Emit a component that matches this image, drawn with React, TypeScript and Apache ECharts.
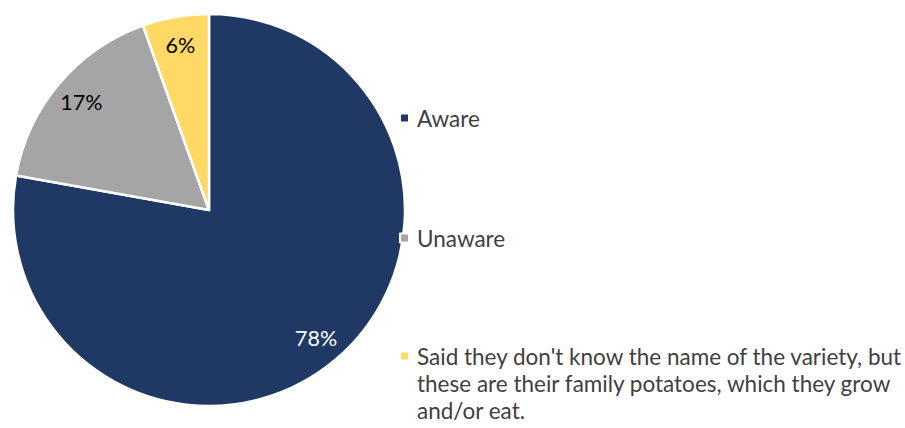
import React, { useEffect, useRef } from "react";
import * as echarts from "echarts";

const categories = [
  "Aware",
  "Unaware",
  "Said they don't know the name of the variety, but\nthese are their family potatoes, which they grow\nand/or eat.",
];
const values = [78.2, 16.8, 5.5];
const colors = ["#203864", "#A5A5A5", "#FFD966"];
const labelColors = ["#FFFFFF", "#000000", "#000000"];

const FONT = "Lato";

export default function App() {
  const ref = useRef<HTMLDivElement>(null);
  useEffect(() => {
    if (!ref.current) return;
    const chart = echarts.init(ref.current, undefined, { renderer: "svg" });
    const center = [209, 210];
    const R = 196;
    const legendTextStyle = {
      fontFamily: FONT,
      fontSize: 22.5,
      color: "#404040",
      lineHeight: 27,
      padding: [0, 0, 0, 3],
    };
    const mkLegend = (i: number, top: number, multi = false) => ({
      data: [categories[i]],
      orient: "vertical",
      left: 399,
      top,
      padding: 0,
      itemWidth: 9,
      itemHeight: 9,
      itemGap: 0,
      icon: "rect",
      selectedMode: false,
      formatter: multi ? (name: string) => "\n\n" + name : undefined,
      textStyle: { ...legendTextStyle },
    });
    chart.setOption({
      animation: false,
      legend: [mkLegend(0, 104.5), mkLegend(1, 224.5), mkLegend(2, 288.5, true)],
      series: [
        {
          type: "pie",
          center,
          radius: [0, R],
          startAngle: 90,
          clockwise: true,
          silent: true,
          label: { show: false },
          labelLine: { show: false },
          itemStyle: { borderColor: "#FFFFFF", borderWidth: 2.5 },
          data: categories.map((name, i) => ({
            name,
            value: values[i],
            itemStyle: { color: colors[i] },
          })),
        },
        {
          type: "pie",
          center,
          radius: [132, R],
          startAngle: 90,
          clockwise: true,
          silent: true,
          legendHoverLink: false,
          itemStyle: { color: "transparent", borderWidth: 0 },
          emphasis: { disabled: true },
          labelLine: { show: false },
          label: {
            show: true,
            position: "inside",
            fontFamily: FONT,
            fontSize: 21.5,
            formatter: (p: any) => `${Math.round(p.value)}%`,
          },
          data: categories.map((name, i) => ({
            name,
            value: values[i],
            label: { color: labelColors[i] },
          })),
        },
      ],
    });
    return () => chart.dispose();
  }, []);
  return (
    <div
      ref={ref}
      style={{ position: "absolute", left: 0, top: 0, width: 905, height: 428, background: "#fff" }}
    />
  );
}
